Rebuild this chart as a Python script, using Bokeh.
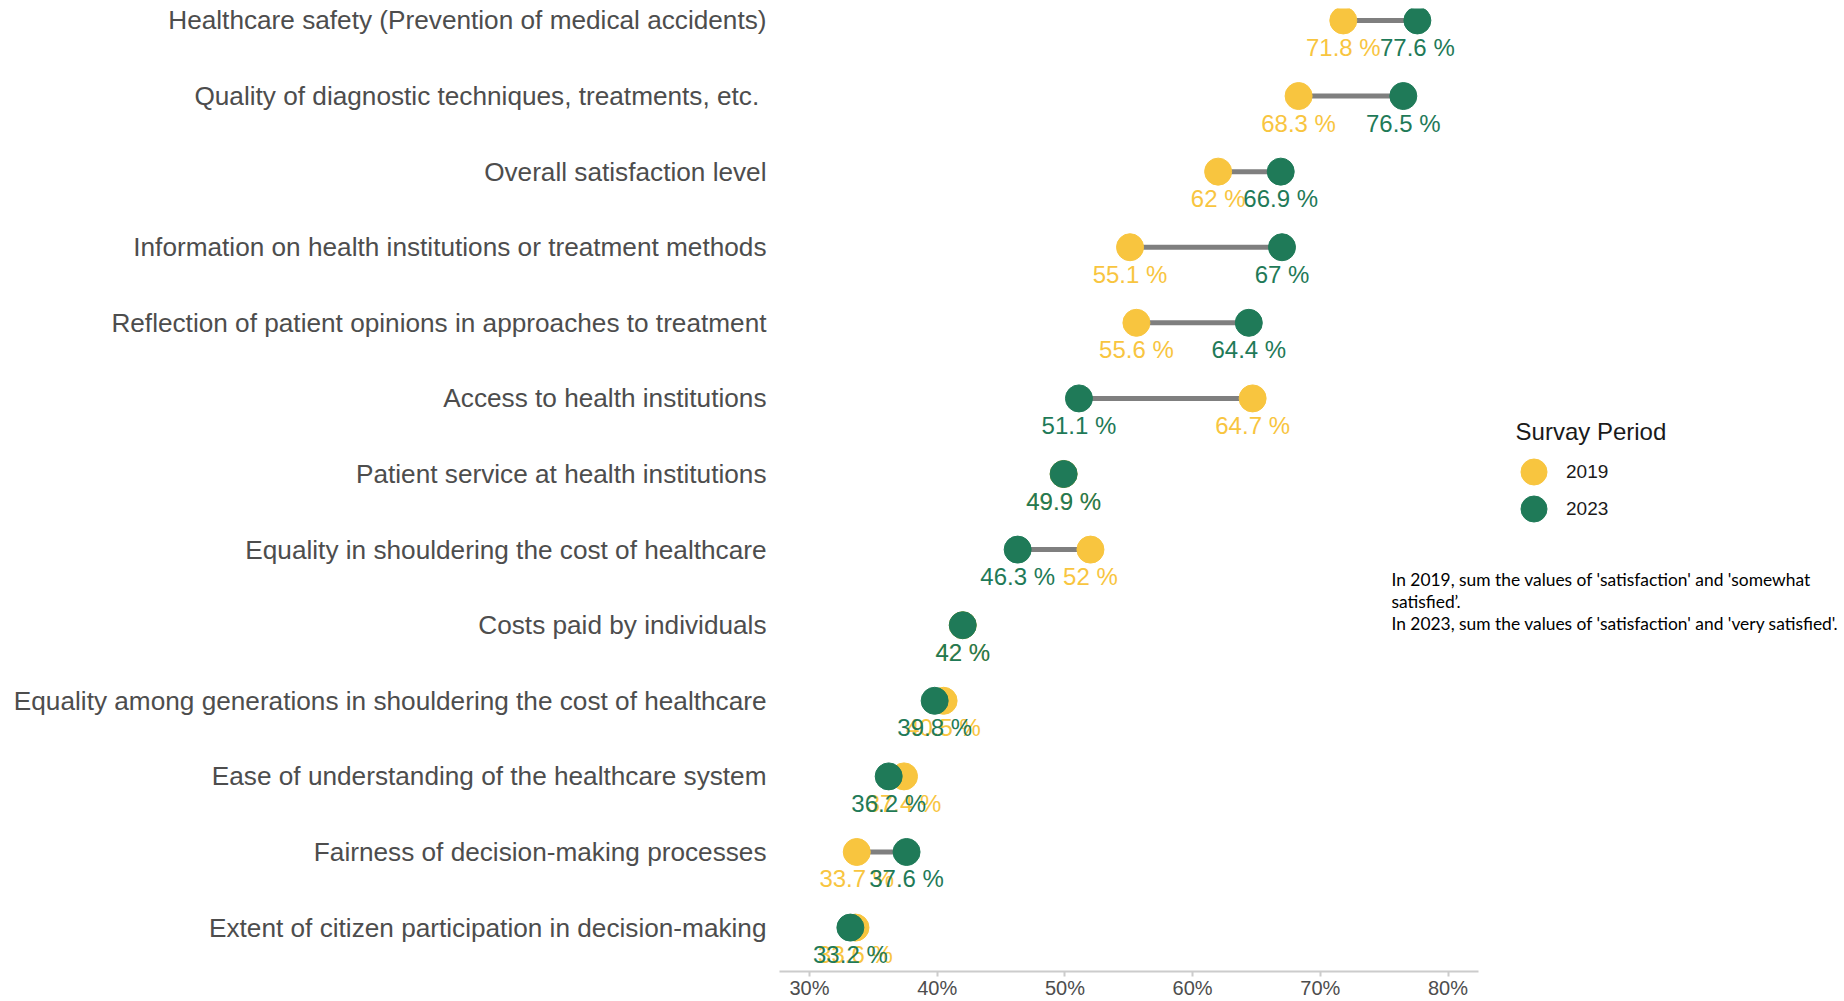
from bokeh.plotting import figure
from bokeh.models import (ColumnDataSource, FixedTicker, PrintfTickFormatter, Range1d,
                          Legend, LegendItem, Label)
from bokeh.core.properties import value
from bokeh.embed import file_html
from bokeh.resources import INLINE

categories = [
    "Healthcare safety (Prevention of medical accidents)",
    "Quality of diagnostic techniques, treatments, etc. ",
    "Overall satisfaction level",
    "Information on health institutions or treatment methods",
    "Reflection of patient opinions in approaches to treatment",
    "Access to health institutions",
    "Patient service at health institutions",
    "Equality in shouldering the cost of healthcare",
    "Costs paid by individuals",
    "Equality among generations in shouldering the cost of healthcare",
    "Ease of understanding of the healthcare system",
    "Fairness of decision-making processes",
    "Extent of citizen participation in decision-making",
]
values_2019 = [71.8, 68.3, 62.0, 55.1, 55.6, 64.7, 49.9, 52.0, 42.0, 40.5, 37.4, 33.7, 33.6]
values_2023 = [77.6, 76.5, 66.9, 67.0, 64.4, 51.1, 49.9, 46.3, 42.0, 39.8, 36.2, 37.6, 33.2]
x_ticks = [30, 40, 50, 60, 70, 80]
legend_title = "Survay Period"
period_labels = ["2019", "2023"]
note_lines = [
    "In 2019, sum the values  of 'satisfaction' and 'somewhat",
    "satisfied\u2019.",
    "In 2023, sum the values  of 'satisfaction' and 'very satisfied'.",
]

YELLOW = "#F8C53F"
GREEN = "#1F7A58"
FONT = "Liberation Sans"

n = len(categories)
ypos = [n - 1 - i for i in range(n)]

src = ColumnDataSource(dict(
    y=ypos,
    v19=values_2019,
    v23=values_2023,
    t19=[f"{v:g} %" for v in values_2019],
    t23=[f"{v:g} %" for v in values_2023],
))

X0, X1 = 27.65, 82.4
px_per_unit = 12.77
frame_w = 1840 - 779
p = figure(width=1840, height=1001, output_backend="svg", toolbar_location=None,
           x_range=Range1d(X0, X0 + frame_w / px_per_unit),
           y_range=Range1d(-0.581, n - 1 + 0.158),
           min_border_left=779, min_border_right=0, min_border_top=8,
           min_border_bottom=28)
p.outline_line_color = None
p.xgrid.visible = False
p.ygrid.visible = False
p.background_fill_color = "white"
p.border_fill_color = "white"

p.segment(x0="v19", y0="y", x1="v23", y1="y", source=src,
          line_color="#7f7f7f", line_width=5)
r19 = p.scatter(x="v19", y="y", source=src, size=27, fill_color=YELLOW, line_color=YELLOW)
r23 = p.scatter(x="v23", y="y", source=src, size=27, fill_color=GREEN, line_color=GREEN)
p.text(x="v19", y="y", text="t19", source=src, text_color=YELLOW,
       text_font=value(FONT), text_font_size="24px", text_align="center",
       text_baseline="middle", y_offset=27)
p.text(x="v23", y="y", text="t23", source=src, text_color=GREEN,
       text_font=value(FONT), text_font_size="24px", text_align="center",
       text_baseline="middle", y_offset=27)

# x axis
xa = p.xaxis[0]
xa.bounds = (X0, X1)
xa.ticker = FixedTicker(ticks=x_ticks)
xa.formatter = PrintfTickFormatter(format="%d%%")
xa.axis_line_color = "#cccccc"
xa.axis_line_width = 2
xa.major_tick_line_color = "#cccccc"
xa.major_tick_line_width = 2
xa.major_tick_out = 5
xa.major_tick_in = 0
xa.minor_tick_line_color = None
xa.major_label_text_font = FONT
xa.major_label_text_font_size = "20px"
xa.major_label_text_color = "#4d4d4d"
xa.major_label_standoff = 0

# y axis with category labels
ya = p.yaxis[0]
ya.ticker = FixedTicker(ticks=ypos)
ya.major_label_overrides = {y: c for y, c in zip(ypos, categories)}
ya.axis_line_color = None
ya.major_tick_line_color = None
ya.minor_tick_line_color = None
ya.major_label_text_font = FONT
ya.major_label_text_font_size = "26.2px"
ya.major_label_text_color = "#4d4d4d"
ya.major_label_standoff = 7

# legend: title as text, one legend per period so rows sit close together
p.add_layout(Label(x=85.29, y=6.561, text=legend_title, text_font=FONT,
                   text_font_size="24px", text_color="#1a1a1a",
                   text_baseline="middle", text_align="left"))
for r, lab, loc in [(r19, period_labels[0], (722, 467)), (r23, period_labels[1], (722, 430))]:
    lg = Legend(items=[LegendItem(label=lab, renderers=[r])], location=loc,
                glyph_width=65, glyph_height=65, padding=0, margin=0,
                label_standoff=0, border_line_color=None, background_fill_alpha=0)
    lg.label_text_font = FONT
    lg.label_text_font_size = "19px"
    lg.label_text_color = "#1a1a1a"
    p.add_layout(lg, "center")

for yy, line in zip([4.607, 4.316, 4.026], note_lines):
    p.add_layout(Label(x=75.57, y=yy, text=line, text_font="Lato",
                       text_font_size="17.4px", text_color="black",
                       text_baseline="middle", text_align="left"))

open("out.html", "w").write(file_html(p, INLINE))
